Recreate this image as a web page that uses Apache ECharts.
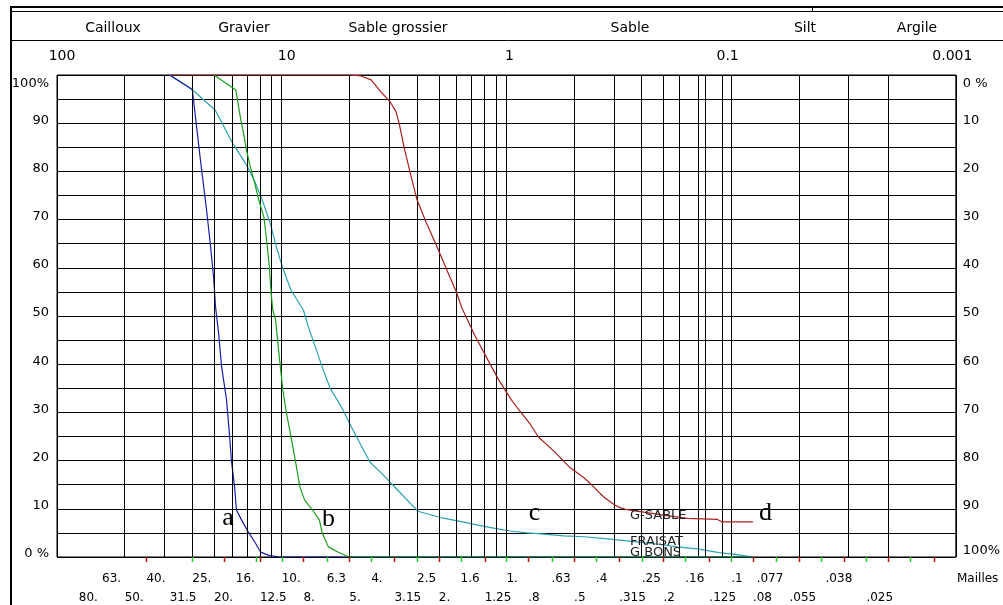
<!DOCTYPE html>
<html><head><meta charset="utf-8">
<script src="https://cdn.jsdelivr.net/npm/echarts@6/dist/echarts.min.js"></script>
<style>html,body{margin:0;padding:0;background:#fff;}#c{width:1003px;height:605px;}</style>
</head><body><div id="c"></div>
<script>
// ---- labels / ticks ----
const classNames = ['Cailloux','Gravier','Sable grossier','Sable','Silt','Argile'];
const classCenters = [113,244,398,630,805,917];
const decadeValues = [100,10,1,0.1,0.01];
const decadeLabels = ['100','10','1','0.1','0.001'];
const sieveRow1 = [63,40,25,16,10,6.3,4,2.5,1.6,1,0.63,0.4,0.25,0.16,0.1,0.077,0.038];
const sieveRow1Labels = ['63.','40.','25.','16.','10.','6.3','4.','2.5','1.6','1.','.63','.4','.25','.16','.1','.077','.038'];
const sieveRow2 = [80,50,31.5,20,12.5,8,5,3.15,2,1.25,0.8,0.5,0.315,0.2,0.125,0.08,0.055,0.025];
const sieveRow2Labels = ['80.','50.','31.5','20.','12.5','8.','5.','3.15','2.','1.25','.8','.5','.315','.2','.125','.08','.055','.025'];
const greenTicks = [25,13,10,6.3,4,2.5,1.6,1,0.63,0.4,0.25,0.16,0.1,0.063,0.04,0.025,0.016];
const redTicks = [40,18,12.5,8,5,3.15,2,1.25,0.8,0.5,0.315,0.2,0.125,0.08,0.05,0.0315,0.02,0.0125];
const gridDecades = [100,10,1,0.1];
const gridDivisors = [1,2,3,4,5,6,7,8,9];

// ---- series values (sieve size mm, % passing) ----
const aSize = [31.5,25,23.0,21.6,20.8,20.1,19.7,19.1,18.5,17.6,17.1,16.75,16.2,15.9,15.1,14.1,13.1,12.4,11.5,10.3,5,0.08];
const aPass = [100,97,82.4,72,65.1,58.1,51.9,46.5,39.4,32.6,25.7,20.1,14.5,9.75,7.7,5.2,2.9,1.0,0.4,0,0,0];
const bSize = [20,16,15.3,14.8,14.35,13.8,13.2,12.65,12.0,11.65,11.35,11.15,10.95,10.65,10.14,9.88,9.58,9.16,8.7,8.3,7.9,7.3,6.8,6.6,6.2,5.6,5.0,0.08];
const bPass = [100,96.9,91.4,88.0,84.4,81.0,77.6,74.1,70.5,65.4,60.2,54.8,51.2,49.2,39.4,34.6,30.5,25.7,20.1,14.5,11.8,9.75,7.7,5.0,2.1,1.0,0,0];
const cSize = [31.5,24.9,19.75,16.7,14.2,13.1,12.3,11.26,10.56,9.9,9.1,8.0,7.6,6.6,6.1,5.42,5.0,4.5,4.05,3.6,3.05,2.48,1.93,1.57,1.34,1.14,0.96,0.81,0.70,0.555,0.45,0.345,0.27,0.215,0.174,0.141,0.113,0.091,0.08];
const cPass = [100,96.9,92.7,86.2,81.0,77.6,74.5,69.3,64.3,60.0,55.4,51.2,47.7,39.4,35.1,31.1,27.8,23.7,19.7,17.4,13.9,9.5,8.1,7.3,6.6,6.0,5.4,5.0,4.8,4.4,4.2,3.7,3.2,2.7,2.1,1.7,0.9,0.4,0];
const dSize = [31.5,5,4.45,4.0,3.62,3.3,3.1,2.99,2.85,2.68,2.5,2.27,2.05,1.86,1.67,1.58,1.38,1.21,1.08,0.95,0.88,0.79,0.72,0.61,0.52,0.45,0.41,0.37,0.33,0.31,0.295,0.2,0.156,0.115,0.11,0.08];
const dPass = [100,100,99.8,99.0,96.5,94.5,92.4,89.6,84.9,79.7,74.1,69.3,64.7,60.0,55.0,51.7,45.9,40.9,36.7,32.6,30.5,27.8,24.9,21.8,18.5,16.4,14.6,12.5,10.8,10.2,9.9,8.7,8.0,7.8,7.3,7.3];
const curveNames = ['G-SABLE','FRAISAT','G BONS'];
const curveLetters = ['a','b','c','d'];

const FF = '"DejaVu Sans", sans-serif';
const pts = (s,p) => s.map((v,i)=>[v,p[i]]);
const gridValues = [];
gridDecades.forEach(d => gridDivisors.forEach(k => gridValues.push(d/k)));

const chart = echarts.init(document.getElementById('c'), null, {renderer:'canvas'});
const yRich = {
  t:{fontSize:13,fontFamily:FF,color:'#000',padding:[17,0,0,0]},
  n:{fontSize:13,fontFamily:FF,color:'#000',padding:[0,0,6,0]},
  b:{fontSize:13,fontFamily:FF,color:'#000',padding:[0,0,12,0]}
};
const topRich = {
  l:{fontSize:14,fontFamily:FF,color:'#000',padding:[0,0,0,10]},
  m:{fontSize:14,fontFamily:FF,color:'#000',padding:[0,0,0,6]},
  r:{fontSize:14,fontFamily:FF,color:'#000',padding:[0,7,0,0]}
};
const option = {
  animation:false,
  textStyle:{fontFamily:FF},
  grid:{left:57,right:43,top:75,bottom:48,show:true,borderColor:'#000',borderWidth:1,backgroundColor:'transparent'},
  xAxis:[{
    type:'log',logBase:10,min:0.01,max:100,inverse:true,position:'top',
    axisLine:{show:false},axisTick:{show:false},splitLine:{show:false},
    axisLabel:{margin:12,fontSize:14,fontFamily:FF,color:'#000',
      formatter:v=>{const i=decadeValues.findIndex(d=>Math.abs(Math.log10(d)-Math.log10(v))<1e-6);
        if(i<0)return ''; const s=decadeLabels[i]; return i<2?'{l|'+s+'}':(i>2?'{r|'+s+'}':'{m|'+s+'}');},
      rich:topRich}
  }],
  yAxis:[{
    type:'value',min:0,max:100,interval:5,position:'left',
    axisLine:{show:false},axisTick:{show:false},
    splitLine:{show:true,lineStyle:{color:'#000',width:1}},
    axisLabel:{margin:8,color:'#000',fontSize:13,fontFamily:FF,
      formatter:v=>v===100?'{t|100%}':(v===0?'{n|0 %}':(v%10===0?'{n|'+v+'}':'')),rich:yRich}
  },{
    type:'value',min:0,max:100,interval:5,position:'right',inverse:true,
    axisLine:{show:false},axisTick:{show:false},splitLine:{show:false},
    axisLabel:{margin:7,color:'#000',fontSize:13,fontFamily:FF,
      formatter:v=>v===0?'{t|0 %}':(v===100?'{b|100%}':(v%10===0?'{n|'+v+'}':'')),rich:yRich}
  }],
  series:[
    {type:'line',name:'grid',data:[[100,0],[0.01,0]],symbol:'none',lineStyle:{opacity:0},z:1,silent:true,
     markLine:{silent:true,symbol:['none','none'],label:{show:false},emphasis:{disabled:true},animation:false,
       lineStyle:{color:'#000',width:1,type:'solid'},data:gridValues.map(v=>({xAxis:v}))}},
    {type:'line',name:'FRAISAT',data:pts(cSize,cPass),symbol:'none',lineStyle:{color:'#2aa4ae',width:1.2},z:3,silent:true},
    {type:'line',name:'a',data:pts(aSize,aPass),symbol:'none',lineStyle:{color:'#1c1ca8',width:1.2},z:4,silent:true},
    {type:'line',name:'b',data:pts(bSize,bPass),symbol:'none',lineStyle:{color:'#1a9f1a',width:1.2},z:5,silent:true},
    {type:'line',name:'G-SABLE',data:pts(dSize,dPass),symbol:'none',lineStyle:{color:'#a52020',width:1.2},z:6,silent:true}
  ]
};
chart.setOption(option);

const px = v => chart.convertToPixel({xAxisIndex:0}, v);
const txt = (x,y,text,font,align,valign,fill) => ({type:'text',x:x,y:y,silent:true,z:100,
  style:{text:text,font:font,fill:fill||'#000',align:align,verticalAlign:valign,textAlign:align,textVerticalAlign:valign}});
const els = [];
// frame
els.push({type:'rect',shape:{x:10,y:6,width:993,height:2},style:{fill:'#000'},silent:true});
els.push({type:'rect',shape:{x:10,y:6,width:2,height:599},style:{fill:'#000'},silent:true});
els.push({type:'line',shape:{x1:12,y1:11.5,x2:1003,y2:11.5},style:{stroke:'#000',lineWidth:1},silent:true});
els.push({type:'line',shape:{x1:12,y1:40.5,x2:1003,y2:40.5},style:{stroke:'#000',lineWidth:1},silent:true});
els.push({type:'line',shape:{x1:812.5,y1:7,x2:812.5,y2:12},style:{stroke:'#000',lineWidth:1},silent:true});
classNames.forEach((n,i)=>els.push(txt(classCenters[i],28,n,'14px '+FF,'center','middle')));
// sieve labels
sieveRow1.forEach((v,i)=>els.push(txt(px(v),579,sieveRow1Labels[i],'12px '+FF,'left','middle')));
sieveRow2.forEach((v,i)=>els.push(txt(px(v),597.5,sieveRow2Labels[i],'12px '+FF,'left','middle')));
els.push(txt(957,579,'Mailles','12px '+FF,'left','middle'));
// coloured sieve ticks
greenTicks.forEach(v=>{const x=Math.round(px(v))+0.5;els.push({type:'line',shape:{x1:x,y1:557,x2:x,y2:562},style:{stroke:'#22cc22',lineWidth:1.5},silent:true,z:50});});
redTicks.forEach(v=>{const x=Math.round(px(v))+0.5;els.push({type:'line',shape:{x1:x,y1:557,x2:x,y2:562},style:{stroke:'#b01818',lineWidth:1.5},silent:true,z:50});});
// curve letters
const SF = '26px "Liberation Serif", "DejaVu Serif", serif';
els.push(txt(228,518,curveLetters[0],SF,'center','middle'));
els.push(txt(328.5,519,curveLetters[1],SF,'center','middle'));
els.push(txt(534.5,513,curveLetters[2],SF,'center','middle'));
els.push(txt(765.5,513,curveLetters[3],SF,'center','middle'));
// curve names
els.push(txt(630,515.5,curveNames[0],'13px '+FF,'left','middle','#222'));
els.push(txt(630,541.5,curveNames[1],'13px '+FF,'left','middle','#222'));
els.push(txt(630,553,curveNames[2],'13px '+FF,'left','middle','#222'));
chart.setOption({graphic:{elements:els}});
</script></body></html>
